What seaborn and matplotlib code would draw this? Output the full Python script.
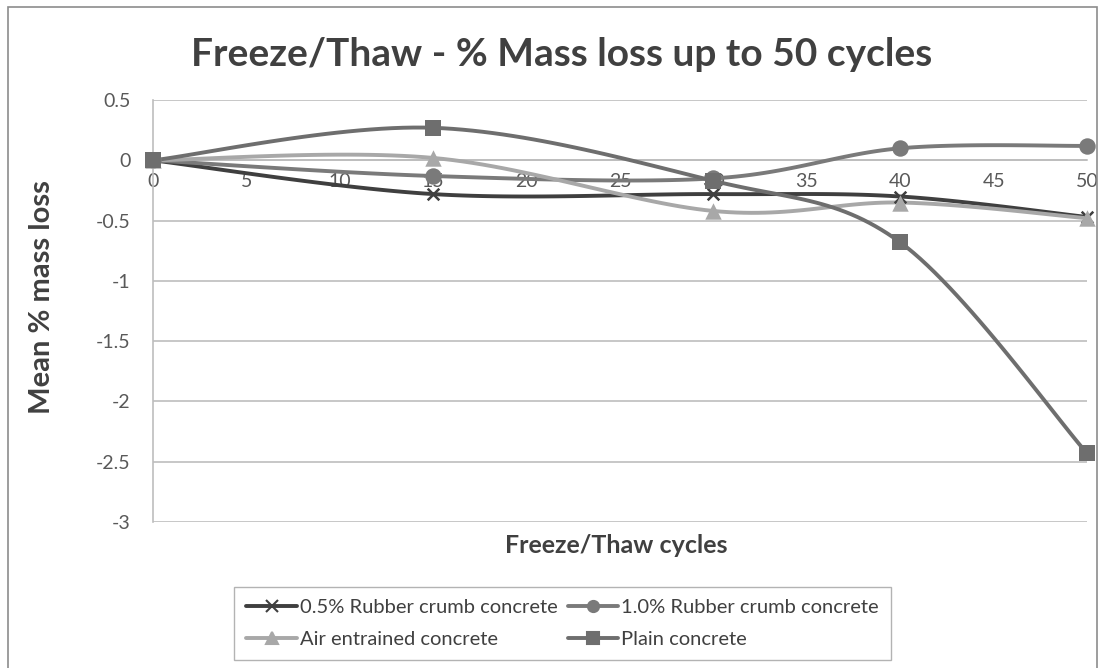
import numpy as np
import pandas as pd
import matplotlib.pyplot as plt
import seaborn as sns
from matplotlib.lines import Line2D
from matplotlib.patches import Rectangle

# data
cycles = [0, 15, 30, 40, 50]
rubber_05 = [0, -0.28, -0.28, -0.30, -0.47]
rubber_10 = [0, -0.13, -0.15, 0.10, 0.12]
air_entrained = [0, 0.02, -0.42, -0.35, -0.48]
plain = [0, 0.27, -0.17, -0.68, -2.43]

series = {
    '0.5% Rubber crumb concrete': rubber_05,
    '1.0% Rubber crumb concrete': rubber_10,
    'Air entrained concrete': air_entrained,
    'Plain concrete': plain,
}
colors = {
    '0.5% Rubber crumb concrete': '#3f3f3f',
    '1.0% Rubber crumb concrete': '#7a7a7a',
    'Air entrained concrete': '#a8a8a8',
    'Plain concrete': '#6e6e6e',
}
markers = {
    '0.5% Rubber crumb concrete': 'x',
    '1.0% Rubber crumb concrete': 'o',
    'Air entrained concrete': '^',
    'Plain concrete': 's',
}


def smooth(xs, ys, n=30):
    # excel-style smoothed line (bezier through the points)
    x = np.array(xs, float)
    y = np.array(ys, float)
    px = np.concatenate([[x[0]], x, [x[-1]]])
    py = np.concatenate([[y[0]], y, [y[-1]]])
    outx, outy = [], []
    t = np.linspace(0, 1, n)
    for i in range(1, len(x)):
        p0 = np.array([px[i], py[i]])
        p3 = np.array([px[i + 1], py[i + 1]])
        p1 = p0 + (np.array([px[i + 1], py[i + 1]]) - np.array([px[i - 1], py[i - 1]])) / 6
        p2 = p3 - (np.array([px[i + 2], py[i + 2]]) - np.array([px[i], py[i]])) / 6
        b = ((1 - t) ** 3)[:, None] * p0 + (3 * (1 - t) ** 2 * t)[:, None] * p1 \
            + (3 * (1 - t) * t ** 2)[:, None] * p2 + (t ** 3)[:, None] * p3
        outx.extend(b[:, 0])
        outy.extend(b[:, 1])
    return outx, outy


rows = []
pts = []
for name, vals in series.items():
    sx, sy = smooth(cycles, vals)
    for i, (a, b) in enumerate(zip(sx, sy)):
        rows.append({'name': name, 'x': a, 'y': b, 'i': i})
    for a, b in zip(cycles, vals):
        pts.append({'name': name, 'x': a, 'y': b})
curves = pd.DataFrame(rows)
points = pd.DataFrame(pts)

sns.set_style('white')
plt.rcParams['font.family'] = ['Lato', 'DejaVu Sans']

fig = plt.figure(figsize=(11.03, 6.68), dpi=100)
ax = fig.add_axes([0.1387, 0.2186, 0.8468, 0.6316])

for y in np.arange(-3, 0.51, 0.5):
    ax.axhline(y, color='#bdbdbd', lw=1.2, zorder=0)

sns.lineplot(data=curves, x='x', y='y', hue='name', palette=colors, sort=False,
             estimator=None, units='name', lw=2.8, legend=False, ax=ax, zorder=3)
for name in series:
    sub = points[points['name'] == name]
    sns.scatterplot(data=sub, x='x', y='y', color=colors[name], marker=markers[name],
                    s=140 if markers[name] != 'x' else 70, linewidth=0 if markers[name] != 'x' else 1.8,
                    edgecolor=colors[name], legend=False, ax=ax, zorder=4, clip_on=False)

ax.set_xlim(0, 50)
ax.set_ylim(-3, 0.5)
ax.set_yticks(np.arange(-3, 0.51, 0.5))
ax.set_yticklabels(['-3', '-2.5', '-2', '-1.5', '-1', '-0.5', '0', '0.5'])
ax.set_xticks(range(0, 51, 5))
for s in ['top', 'right']:
    ax.spines[s].set_visible(False)
ax.spines['left'].set_color('#bdbdbd')
ax.spines['left'].set_linewidth(1.2)
ax.spines['bottom'].set_position(('data', 0))
ax.spines['bottom'].set_color('#bdbdbd')
ax.spines['bottom'].set_linewidth(1.2)
ax.tick_params(axis='y', length=6, color='#bdbdbd', labelsize=14, labelcolor='#595959', pad=10)
ax.tick_params(axis='x', direction='inout', length=10, color='#bdbdbd', labelsize=14,
               labelcolor='#595959', pad=4)
ax.set_xlabel('')
ax.set_ylabel('')

fig.text(0.509, 0.918, 'Freeze/Thaw - % Mass loss up to 50 cycles', ha='center', va='center',
         fontsize=28, fontweight='bold', color='#404040')
fig.text(0.038, 0.555, 'Mean % mass loss', rotation=90, ha='center', va='center',
         fontsize=21, fontweight='bold', color='#404040')
fig.text(0.559, 0.184, 'Freeze/Thaw cycles', ha='center', va='center',
         fontsize=18, fontweight='bold', color='#404040')

# legend rows: 0.5% / 1.0% on top, air / plain below (matplotlib fills by column)
order = ['0.5% Rubber crumb concrete', 'Air entrained concrete',
         '1.0% Rubber crumb concrete', 'Plain concrete']
handles = [Line2D([], [], color=colors[n], lw=2.8, marker=markers[n], markersize=8,
                  markeredgewidth=1.5) for n in order]
fig.legend(handles, order, loc='center', bbox_to_anchor=(0.51, 0.067), ncol=2,
           frameon=True, fancybox=False, edgecolor='#a0a0a0', fontsize=14.5,
           handlelength=2.5, handletextpad=0.15, columnspacing=0.5, labelcolor='#404040',
           borderpad=0.6, labelspacing=0.75)

fig.patches.append(Rectangle((0.007, -0.05), 0.988, 1.04, transform=fig.transFigure,
                             fill=False, edgecolor='#8c8c8c', lw=1.2))

fig.savefig('out.png', dpi=100)
